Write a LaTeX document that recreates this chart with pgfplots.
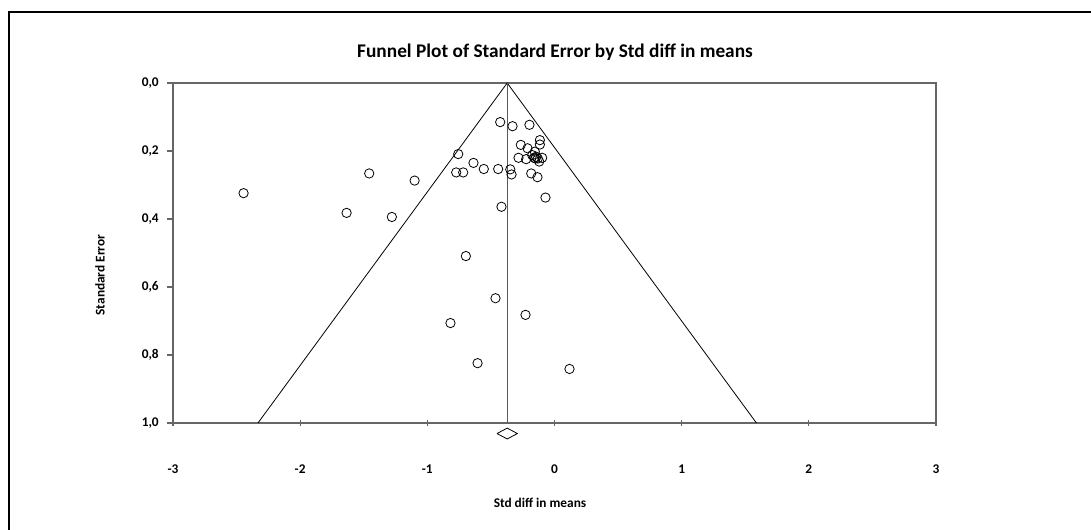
\documentclass[border=0pt]{standalone}
\usepackage{fontspec}
\setmainfont{Carlito}
\usepackage{pgfplots}
\pgfplotsset{compat=1.18}
\begin{document}
\begin{tikzpicture}
\useasboundingbox (0,0) rectangle (818.25pt,396.75pt);
\draw[line width=1.1pt] (6.75pt,-2pt) -- (6.75pt,387.75pt) -- (822pt,387.75pt);
\node[font=\bfseries\fontsize{14.5}{16}\selectfont] at (416.25pt,357.75pt) {Funnel Plot of Standard Error by Std diff in means};
\node[font=\bfseries\fontsize{10}{11}\selectfont, rotate=90] at (75pt,190.5pt) {Standard Error};
\node[font=\bfseries\fontsize{10}{11}\selectfont] at (405pt,19.5pt) {Std diff in means};
\begin{axis}[
  at={(129.75pt,79.5pt)}, anchor=south west,
  scale only axis, width=572.25pt, height=255pt,
  xmin=-3, xmax=3, ymin=0, ymax=1, y dir=reverse,
  xtick={-3,-2,-1,0,1,2,3},
  ytick={0,0.2,0.4,0.6,0.8,1},
  tick pos=left, tick align=center,
  major tick length=4.5pt,
  ytick style={xshift=-2.25pt},
  axis line style={draw=black!60, line width=1pt},
  every tick/.style={draw=black!60, line width=0.8pt},
  clip=false,
  x tick label style={font=\bfseries\fontsize{10}{11}\selectfont, anchor=center, yshift=-32pt, /pgf/number format/assume math mode=true},
  y tick label style={font=\bfseries\fontsize{10}{11}\selectfont, anchor=east, inner sep=0pt, xshift=-8.25pt,
    /pgf/number format/.cd, fixed, fixed zerofill, precision=1, use comma, assume math mode=true},
]
\addplot[black, line width=0.6pt] coordinates {(-2.332,1) (-0.372,0) (1.588,1)};
\addplot[black!65, line width=0.9pt] coordinates {(-0.372,0) (-0.372,1)};
\addplot[black, line width=0.6pt] coordinates {(-0.452,1.031) (-0.372,1.047) (-0.292,1.031) (-0.372,1.015) (-0.452,1.031)};
\addplot[only marks, mark=o, mark size=3.5pt, black, mark options={line width=0.6pt}] coordinates {
(-2.445,0.324)
(-1.635,0.382)
(-1.457,0.266)
(-1.279,0.394)
(-1.100,0.287)
(-0.773,0.263)
(-0.757,0.209)
(-0.718,0.263)
(-0.637,0.235)
(-0.556,0.253)
(-0.443,0.253)
(-0.427,0.115)
(-0.417,0.364)
(-0.348,0.254)
(-0.338,0.269)
(-0.330,0.127)
(-0.283,0.220)
(-0.265,0.182)
(-0.223,0.224)
(-0.212,0.192)
(-0.197,0.123)
(-0.183,0.266)
(-0.175,0.212)
(-0.155,0.202)
(-0.144,0.217)
(-0.150,0.222)
(-0.160,0.220)
(-0.131,0.222)
(-0.134,0.277)
(-0.120,0.231)
(-0.115,0.168)
(-0.115,0.181)
(-0.097,0.220)
(-0.071,0.337)
(-0.697,0.509)
(-0.464,0.633)
(-0.818,0.706)
(-0.605,0.824)
(-0.228,0.682)
(0.118,0.841)
};
\end{axis}
\end{tikzpicture}
\end{document}
